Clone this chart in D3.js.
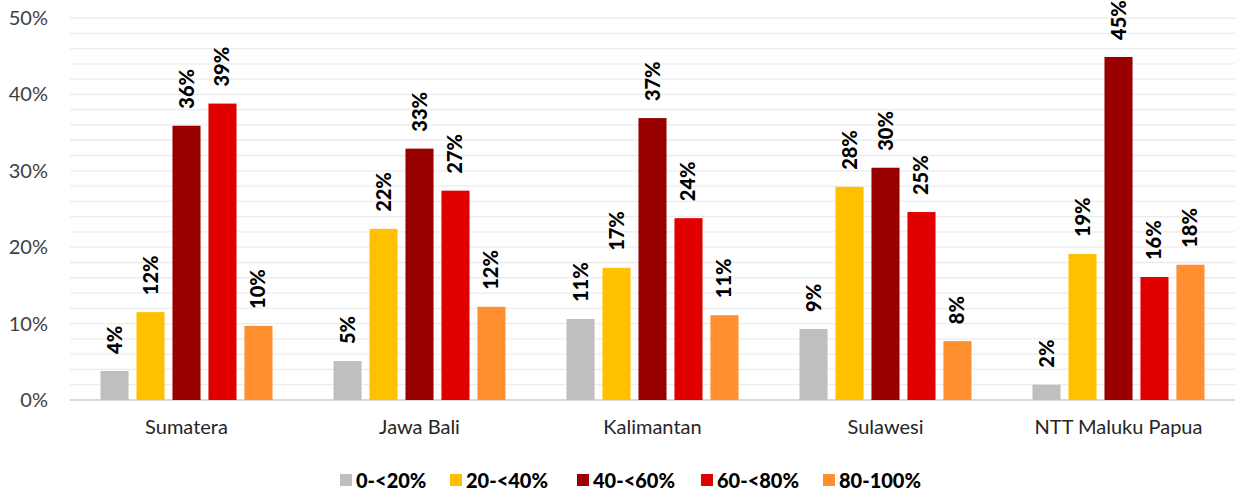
<!DOCTYPE html>
<html>
<head>
<meta charset="utf-8">
<script src="https://cdn.jsdelivr.net/npm/d3@7"></script>
<style>
  body { margin: 0; background: #fff; }
  svg { font-family: Lato, "Source Sans Pro", sans-serif; }
</style>
</head>
<body>
<svg id="chart" width="1235" height="493"></svg>
<script>
"use strict";

var regions = ['Sumatera', 'Jawa Bali', 'Kalimantan', 'Sulawesi', 'NTT Maluku Papua'];
var groups = ['0-<20%', '20-<40%', '40-<60%', '60-<80%', '80-100%'];
var colors = ['#bfbfbf', '#ffc000', '#990000', '#e00000', '#ff8f2f'];

// one array per group, in the order of regions
var g0_20 = [3.8, 5.1, 10.6, 9.3, 2.0];
var g20_40 = [11.5, 22.4, 17.3, 27.9, 19.1];
var g40_60 = [35.9, 32.9, 36.9, 30.4, 44.9];
var g60_80 = [38.8, 27.4, 23.8, 24.6, 16.1];
var g80_100 = [9.7, 12.2, 11.1, 7.7, 17.7];
var labels0 = ['4%', '5%', '11%', '9%', '2%'];
var labels1 = ['12%', '22%', '17%', '28%', '19%'];
var labels2 = ['36%', '33%', '37%', '30%', '45%'];
var labels3 = ['39%', '27%', '24%', '25%', '16%'];
var labels4 = ['10%', '12%', '11%', '8%', '18%'];
var yticks = [0, 10, 20, 30, 40, 50];

var series = [g0_20, g20_40, g40_60, g60_80, g80_100];
var labels = [labels0, labels1, labels2, labels3, labels4];

function draw_chart() {
  var svg = d3.select('#chart');
  var margin = { top: 18, right: 0, bottom: 93, left: 70 };
  var width = 1235 - margin.left - margin.right;
  var height = 493 - margin.top - margin.bottom;

  var plot = svg.append('g')
    .attr('transform', 'translate(' + margin.left + ',' + margin.top + ')');

  var x0 = d3.scaleBand().domain(regions).range([0, width]);
  var x1 = d3.scaleBand().domain(d3.range(groups.length))
    .range([0, 172]).paddingInner(0.22);
  var y = d3.scaleLinear().domain([0, 50]).range([height, 0]);

  // minor gridlines every 2%
  plot.append('g')
    .selectAll('line')
    .data(d3.range(2, 51, 2))
    .join('line')
    .attr('x1', 0).attr('x2', width)
    .attr('y1', d => y(d)).attr('y2', d => y(d))
    .attr('stroke', '#ececec')
    .attr('stroke-width', 1.3);

  // baseline
  plot.append('line')
    .attr('x1', 0).attr('x2', width)
    .attr('y1', y(0)).attr('y2', y(0))
    .attr('stroke', '#d9d9d9')
    .attr('stroke-width', 2);

  // y axis labels
  var yaxis = d3.axisLeft(y).tickValues(yticks).tickFormat(d => d + '%').tickSize(0).tickPadding(22);
  plot.append('g')
    .call(yaxis)
    .call(g => g.select('.domain').remove())
    .selectAll('text')
    .attr('font-size', 20)
    .attr('fill', '#404040')
    .style('font-family', 'Lato, sans-serif');

  // bars
  var groupOffset = (x0.bandwidth() - 172) / 2;
  regions.forEach(function (r, ri) {
    var gx = x0(r) + groupOffset;
    var rg = plot.append('g').attr('transform', 'translate(' + gx + ',0)');
    series.forEach(function (s, si) {
      rg.append('rect')
        .attr('x', x1(si))
        .attr('y', y(s[ri]))
        .attr('width', x1.bandwidth())
        .attr('height', y(0) - y(s[ri]))
        .attr('fill', colors[si]);
      var cx = x1(si) + x1.bandwidth() / 2;
      var ty = y(s[ri]) - 17;
      rg.append('text')
        .attr('transform', 'translate(' + (cx + 7) + ',' + ty + ') rotate(-90)')
        .attr('text-anchor', 'start')
        .attr('font-size', 20)
        .attr('font-weight', 900)
        .attr('fill', '#000')
        .text(labels[si][ri]);
    });
  });

  // x axis labels
  var xaxis = d3.axisBottom(x0).tickSize(0).tickPadding(20);
  plot.append('g')
    .attr('transform', 'translate(0,' + height + ')')
    .call(xaxis)
    .call(g => g.select('.domain').remove())
    .selectAll('text')
    .attr('font-size', 20)
    .attr('fill', '#262626')
    .style('font-family', 'Lato, sans-serif');

  // legend
  var legendX = [340, 450, 577, 701, 823];
  var legend = svg.append('g').attr('transform', 'translate(0,481)');
  groups.forEach(function (gname, i) {
    legend.append('rect')
      .attr('x', legendX[i]).attr('y', -7)
      .attr('width', 12).attr('height', 12)
      .attr('fill', colors[i]);
    legend.append('text')
      .attr('x', legendX[i] + 16).attr('y', 7)
      .attr('font-size', 20)
      .attr('font-weight', 900)
      .attr('fill', '#000')
      .text(gname);
  });
}

draw_chart();
</script>
</body>
</html>
